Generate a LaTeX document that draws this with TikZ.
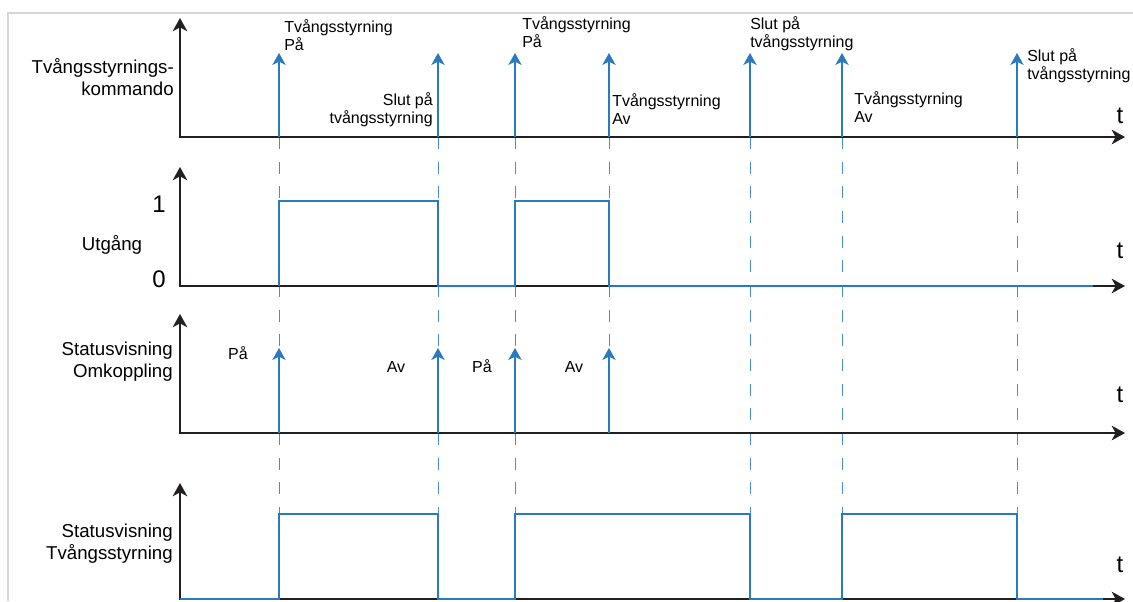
\documentclass[tikz,border=0pt]{standalone}
\usepackage{fontspec}
\setmainfont{Liberation Sans}
\usetikzlibrary{arrows.meta}
\definecolor{sigblue}{HTML}{2A7AC0}
\definecolor{axisblack}{HTML}{231F20}
\definecolor{framegrey}{HTML}{D6D6D6}
\begin{document}
\begin{tikzpicture}[x=0.75pt,y=-0.75pt,
  axis/.style={draw=axisblack,line width=1.25pt,{Stealth[length=10pt,width=11pt,inset=3pt]}-{Stealth[length=10pt,width=11pt,inset=3pt]}},
  sig/.style={draw=sigblue,line width=1pt},
  evt/.style={draw=sigblue,line width=1pt,-{Stealth[length=9pt,width=10pt,inset=2.5pt]}},
  guide/.style={draw=sigblue!85,line width=0.75pt,dash pattern=on 9pt off 9.5pt},
  lbl/.style={inner sep=0pt,align=left,font=\fontsize{12}{13.5}\selectfont},
  side/.style={inner sep=0pt,align=right,font=\fontsize{14}{16.5}\selectfont},
  big/.style={inner sep=0pt,font=\fontsize{18}{20}\selectfont}]
\useasboundingbox (0,0) rectangle (1133,601);
% frame
\draw[framegrey,line width=1.5pt] (8,601) -- (8,13) -- (1133,13);
% dashed event guides
\foreach \x in {279,438,515,750,842,1017}
  \draw[guide] (\x,137) -- (\x,514);
\draw[guide] (609,137) -- (609,348);
% axes
\draw[axis] (180,18) |- (1125,137);
\draw[axis] (180,167) |- (1125,286);
\draw[axis] (180,314) |- (1125,433);
\draw[axis] (180,483) |- (1125,599);
% command pulses
\foreach \x in {279,438,515,609,750,842,1017}
  \draw[evt] (\x,137) -- (\x,53);
% output
\draw[sig] (279,286) -- (279,201) -- (438,201) -- (438,286) -- (515,286) -- (515,201)
  -- (609,201) -- (609,286) -- (1093,286);
% switching status
\foreach \x in {279,438,515,609}
  \draw[evt] (\x,433) -- (\x,348);
% forced status
\draw[sig] (180,599) -- (279,599) -- (279,514) -- (438,514) -- (438,599) -- (515,599)
  -- (515,514) -- (750,514) -- (750,599) -- (842,599) -- (842,514) -- (1017,514)
  -- (1017,599) -- (1103,599);
% row labels
\node[side,anchor=north east] (cmd) at (174,58) {Tvångsstyrnings-\\kommando};
\node[side,anchor=base] (out) at (112,250) {Utgång};
\node[side,anchor=north east] (swst) at (173,342) {Statusvisning\\Omkoppling};
\node[side,anchor=north east] (fost) at (173,524) {Statusvisning\\Tvångsstyrning};
\node[big,anchor=base east] (one) at (166,212) {1};
\node[big,anchor=base east] (zero) at (166,287) {0};
% time labels
\node[big,anchor=base] (t1) at (1120,123) {t};
\node[big,anchor=base] (t2) at (1120,258) {t};
\node[big,anchor=base] (t3) at (1120,402) {t};
\node[big,anchor=base] (t4) at (1120,572) {t};
% event labels
\node[lbl,anchor=north west] (on1) at (284,19) {Tvångsstyrning\\På};
\node[lbl,anchor=north east,align=right] (end1) at (433,92) {Slut på\\tvångsstyrning};
\node[lbl,anchor=north west] (on2) at (522,16) {Tvångsstyrning\\På};
\node[lbl,anchor=north west] (off1) at (612,93) {Tvångsstyrning\\Av};
\node[lbl,anchor=north west] (end2) at (750,16) {Slut på\\tvångsstyrning};
\node[lbl,anchor=north west] (off2) at (854,91) {Tvångsstyrning\\Av};
\node[lbl,anchor=north west] (end3) at (1027,48) {Slut på\\tvångsstyrning};
\node[lbl,anchor=base] (swon1) at (238,359) {På};
\node[lbl,anchor=base] (swoff1) at (396,372) {Av};
\node[lbl,anchor=base] (swon2) at (482,372) {På};
\node[lbl,anchor=base] (swoff2) at (574,372) {Av};
\end{tikzpicture}
\end{document}
